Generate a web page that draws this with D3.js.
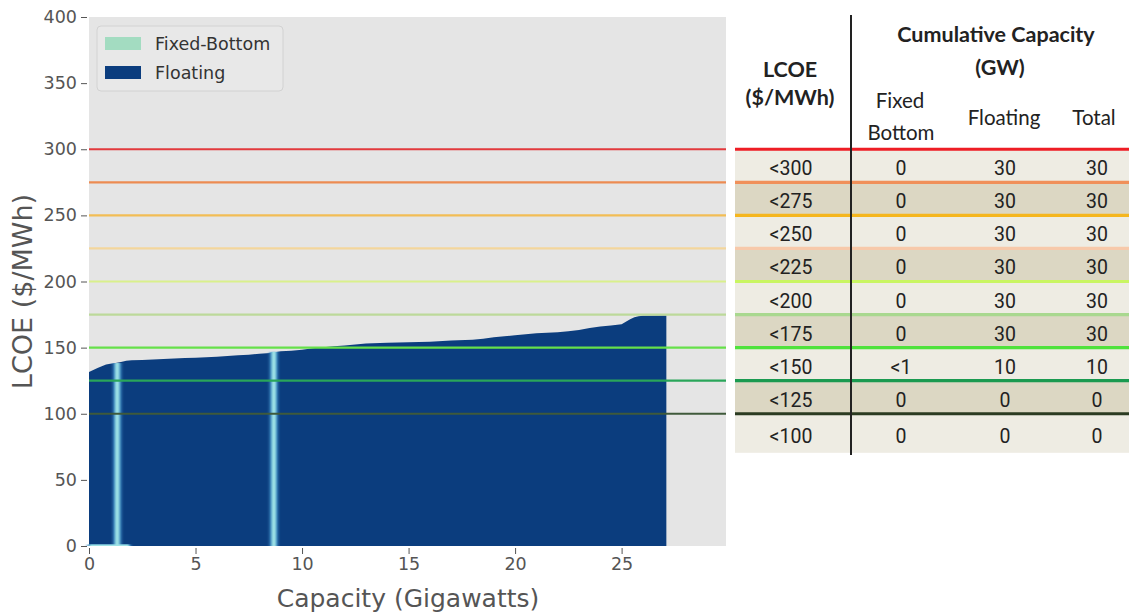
<!DOCTYPE html>
<html>
<head>
<meta charset="utf-8">
<script src="https://cdn.jsdelivr.net/npm/d3@7"></script>
<style>
  html, body { margin: 0; padding: 0; background: #ffffff; }
  svg { display: block; }
</style>
</head>
<body>
<svg id="chart" width="1129" height="615"></svg>
<script>
// Floating supply curve: capacity (GW) and LCOE ($/MWh) along the sorted sites
const floatingCapacity = [0, 0.2, 0.4, 0.6, 0.8, 1.0, 1.25, 1.5, 1.75, 2.0,
  2.5, 3.0, 3.5, 4.0, 4.5, 5.0, 5.5, 6.0, 6.5, 7.0,
  7.5, 8.0, 8.5, 9.0, 9.5, 10.0, 10.5, 11.0, 11.5, 12.0,
  12.5, 13.0, 14.0, 15.0, 16.0, 17.0, 18.0, 18.5, 19.0, 19.5,
  20.0, 20.5, 21.0, 22.0, 22.5, 23.0, 23.5, 24.0, 24.5, 25.0,
  25.2, 25.4, 25.6, 25.8, 26.0, 27.1];
const floatingLcoe = [131.5, 133.0, 134.5, 136.0, 137.2, 137.8, 138.3, 139.2, 140.0, 140.4,
  140.7, 141.1, 141.4, 141.7, 142.1, 142.4, 142.8, 143.1, 143.6, 144.2,
  144.7, 145.3, 146.0, 147.3, 147.7, 148.4, 149.6, 150.3, 151.0, 151.6,
  152.3, 153.2, 153.6, 154.0, 154.5, 155.3, 156.0, 156.8, 157.8, 158.6,
  159.4, 160.2, 160.9, 161.6, 162.4, 163.4, 164.8, 166.0, 166.8, 167.6,
  169.5, 171.5, 173.0, 173.7, 174.1, 174.2];

// Fixed-bottom sites: capacity span (GW) and LCOE ($/MWh)
const fixedStart = [0.0, 1.2, 8.55];
const fixedEnd = [1.9, 1.45, 8.8];
const fixedLcoe = [1.2, 138.3, 146.8];

// LCOE thresholds shared by the chart and the table
const thresholds = [300, 275, 250, 225, 200, 175, 150, 125, 100];
const chartLineColors = ["#e2393d", "#ec8b52", "#f2bd55", "#f3d69c", "#d9f08c", "#bcd99a", "#66e04a", "#2aa65a", "#3f5a3b"];
const tableLineColors = ["#ee1d25", "#f0905a", "#f5b61e", "#f7c9aa", "#c9f562", "#a9d88f", "#4fe23c", "#1a9a50", "#2b3b21"];

// Table rows
const rowLabels = ["<300", "<275", "<250", "<225", "<200", "<175", "<150", "<125", "<100"];
const fixedBottomGW = ["0", "0", "0", "0", "0", "0", "<1", "0", "0"];
const floatingGW = ["30", "30", "30", "30", "30", "30", "10", "0", "0"];
const totalGW = ["30", "30", "30", "30", "30", "30", "10", "0", "0"];

const xTicks = [0, 5, 10, 15, 20, 25];
const yTicks = [0, 50, 100, 150, 200, 250, 300, 350, 400];
const legendLabels = ["Fixed-Bottom", "Floating"];
const seriesColors = ["#a3dcc1", "#0b3d7e"];

const svg = d3.select("#chart");

const x = d3.scaleLinear().domain([0, 29.9]).range([89, 726]);
const y = d3.scaleLinear().domain([0, 400]).range([546, 17]);

const defs = svg.append("defs");
defs.append("filter").attr("id", "soft").attr("x", "-100%").attr("width", "300%")
  .append("feGaussianBlur").attr("stdDeviation", "1.0 0");
defs.append("filter").attr("id", "halo").attr("x", "-100%").attr("width", "300%")
  .append("feGaussianBlur").attr("stdDeviation", "1.6 0");

// plot background
svg.append("rect")
  .attr("x", x(0)).attr("y", y(400))
  .attr("width", x(29.9) - x(0)).attr("height", y(0) - y(400))
  .attr("fill", "#e5e5e5");

// floating supply curve
const pts = floatingCapacity.map((c, i) => [c, floatingLcoe[i]]);
const area = d3.area()
  .x(d => x(d[0]))
  .y0(y(0))
  .y1(d => y(d[1]))
  .curve(d3.curveLinear);
svg.append("path").datum(pts)
  .attr("d", area)
  .attr("fill", seriesColors[1]);

// fixed-bottom bars (blue halo plus light core)
const fixed = fixedStart.map((s, i) => ({ s, e: fixedEnd[i], v: fixedLcoe[i] }));
svg.append("g").selectAll("rect")
  .data(fixed)
  .join("rect")
  .attr("x", d => x(d.s) - 1.5)
  .attr("width", d => x(d.e) - x(d.s) + 3)
  .attr("y", d => y(d.v))
  .attr("height", d => y(0) - y(d.v))
  .attr("fill", "#3a88c2")
  .attr("filter", "url(#halo)");
svg.append("g").selectAll("rect")
  .data(fixed)
  .join("rect")
  .attr("x", d => x(d.s) + 0.5)
  .attr("width", d => Math.max(1, x(d.e) - x(d.s) - 1))
  .attr("y", d => y(d.v))
  .attr("height", d => y(0) - y(d.v))
  .attr("fill", "#9fe3e6")
  .attr("filter", "url(#soft)");

// threshold lines across the plot
svg.append("g").selectAll("line")
  .data(thresholds)
  .join("line")
  .attr("x1", x(0)).attr("x2", x(29.9))
  .attr("y1", d => y(d)).attr("y2", d => y(d))
  .attr("stroke", (d, i) => chartLineColors[i])
  .attr("stroke-width", 2.2);

// axes
const yAxis = svg.append("g")
  .attr("transform", `translate(${x(0) - 2},0)`)
  .call(d3.axisLeft(y).tickValues(yTicks).tickSize(6).tickPadding(4).tickFormat(d3.format("d")));
const xAxis = svg.append("g")
  .attr("transform", `translate(0,${y(0) + 2})`)
  .call(d3.axisBottom(x).tickValues(xTicks).tickSize(6).tickPadding(4).tickFormat(d3.format("d")));
[yAxis, xAxis].forEach(g => {
  g.select(".domain").remove();
  g.selectAll(".tick line").attr("stroke", "#555").attr("stroke-width", 1);
  g.selectAll(".tick text").attr("fill", "#555")
    .style("font-family", "'DejaVu Sans', sans-serif").style("font-size", "17.5px");
});

// axis titles
svg.append("text")
  .attr("transform", `translate(32,${(y(0) + y(400)) / 2 + 10}) rotate(-90)`)
  .attr("text-anchor", "middle")
  .attr("fill", "#555")
  .style("font-family", "'DejaVu Sans', sans-serif").style("font-size", "27px")
  .text("LCOE ($/MWh)");
svg.append("text")
  .attr("x", 408).attr("y", 607)
  .attr("text-anchor", "middle")
  .attr("fill", "#555")
  .style("font-family", "'DejaVu Sans', sans-serif").style("font-size", "25px")
  .text("Capacity (Gigawatts)");

// legend
const legend = svg.append("g");
legend.append("rect")
  .attr("x", 97).attr("y", 26).attr("width", 186).attr("height", 65).attr("rx", 4)
  .attr("fill", "#e8e8e8").attr("stroke", "#d2d2d2");
legendLabels.forEach((lab, i) => {
  legend.append("rect")
    .attr("x", 105).attr("y", 37 + i * 29).attr("width", 36).attr("height", 13)
    .attr("fill", seriesColors[i]);
  legend.append("text")
    .attr("x", 155).attr("y", 50 + i * 29)
    .attr("fill", "#333")
    .style("font-family", "'DejaVu Sans', sans-serif").style("font-size", "17.5px")
    .text(lab);
});

// ---- table ----
const tLeft = 735, tRight = 1129, divider = 851;
const colX = [791, 901, 1005, 1097];
const table = svg.append("g");

const rows = thresholds.map((t, i) => {
  const top = y(t);
  const bottom = i === thresholds.length - 1 ? y(t - 25) + 6 : y(t - 25);
  return { top, bottom, i };
});

table.selectAll("rect.row")
  .data(rows)
  .join("rect")
  .attr("class", "row")
  .attr("x", tLeft).attr("width", tRight - tLeft)
  .attr("y", d => d.top).attr("height", d => d.bottom - d.top)
  .attr("fill", d => d.i % 2 === 0 ? "#eeece3" : "#dcd7c3");

table.selectAll("line.sep")
  .data(thresholds)
  .join("line")
  .attr("class", "sep")
  .attr("x1", tLeft).attr("x2", tRight)
  .attr("y1", d => y(d)).attr("y2", d => y(d))
  .attr("stroke", (d, i) => tableLineColors[i])
  .attr("stroke-width", 3.2);

table.append("line")
  .attr("x1", divider).attr("x2", divider)
  .attr("y1", 15).attr("y2", 455)
  .attr("stroke", "#222").attr("stroke-width", 2);

const cellFont = "Roboto, 'Open Sans', sans-serif";
const columns = [rowLabels, fixedBottomGW, floatingGW, totalGW];
columns.forEach((col, c) => {
  table.append("g").selectAll("text")
    .data(rows)
    .join("text")
    .attr("x", colX[c])
    .attr("y", d => (d.top + d.bottom) / 2 + 9.5)
    .attr("text-anchor", "middle")
    .attr("fill", "#222")
    .style("font-family", cellFont).style("font-size", "19.5px")
    .text(d => col[d.i]);
});

// header
const headFont = "Lato, 'Open Sans', sans-serif";
const head = [
  { t: "Cumulative Capacity", x: 996, y: 42, b: true },
  { t: "(GW)", x: 1000, y: 75, b: true },
  { t: "LCOE", x: 790, y: 77, b: true },
  { t: "($/MWh)", x: 790, y: 105, b: true },
  { t: "Fixed", x: 900, y: 108, b: false },
  { t: "Bottom", x: 901, y: 140, b: false },
  { t: "Floating", x: 1004, y: 125, b: false },
  { t: "Total", x: 1094, y: 125, b: false }
];
table.selectAll("text.head")
  .data(head)
  .join("text")
  .attr("class", "head")
  .attr("x", d => d.x).attr("y", d => d.y)
  .attr("text-anchor", "middle")
  .attr("fill", "#222")
  .style("font-family", headFont)
  .style("font-weight", d => d.b ? 700 : 400)
  .style("font-size", d => d.b ? "21.5px" : "20.5px")
  .text(d => d.t);
</script>
</body>
</html>
